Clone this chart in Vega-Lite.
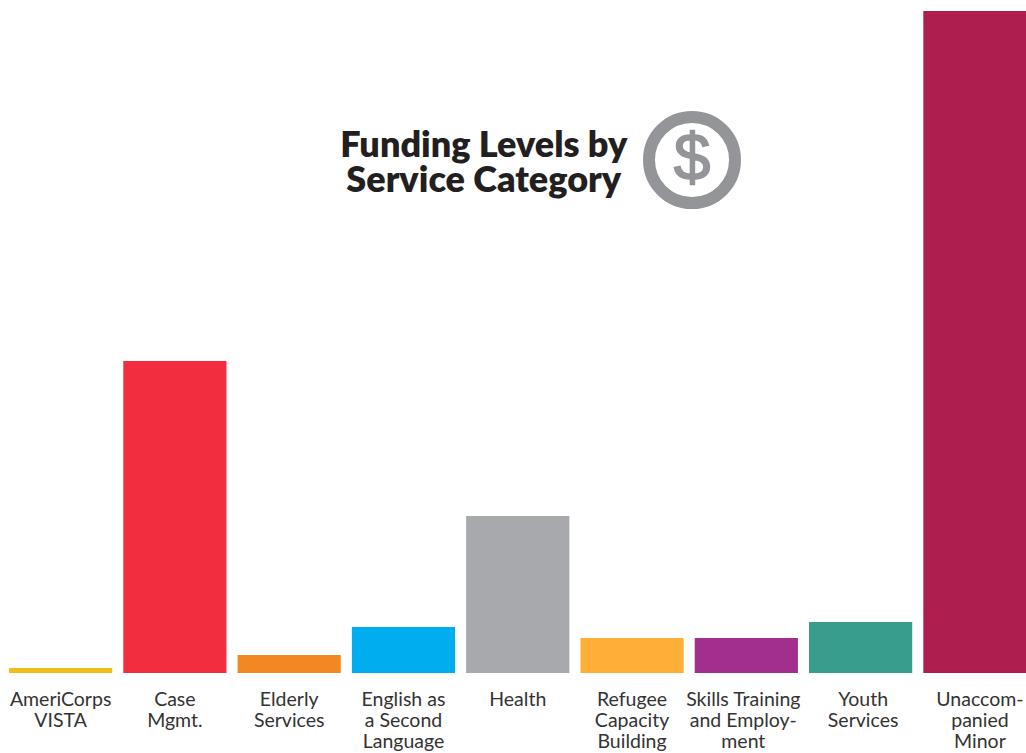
{
  "$schema": "https://vega.github.io/schema/vega-lite/v6.json",
  "width": 1017.5,
  "height": 662,
  "autosize": {"type": "none"},
  "padding": {"left": 9, "top": 11, "right": 0, "bottom": 80},
  "background": "white",
  "config": {"view": {"stroke": null}, "font": "Lato"},
  "title": {
    "text": ["Funding Levels by", "Service Category"],
    "anchor": "middle",
    "align": "center",
    "frame": "group",
    "orient": "top",
    "baseline": "alphabetic",
    "font": "Lato",
    "fontSize": 36,
    "fontWeight": 800,
    "color": "#231f20",
    "lineHeight": 35,
    "dx": -34,
    "dy": 217,
    "offset": 0
  },
  "resolve": {"scale": {"x": "independent"}},
  "layer": [
    {
      "data": {"values": [
        {"category": "AmeriCorps|VISTA", "funding": 5},
        {"category": "Case|Mgmt.", "funding": 312},
        {"category": "Elderly|Services", "funding": 18},
        {"category": "English as|a Second|Language", "funding": 46},
        {"category": "Health", "funding": 157},
        {"category": "Refugee|Capacity|Building", "funding": 35},
        {"category": "Skills Training|and Employ-|ment", "funding": 35},
        {"category": "Youth|Services", "funding": 51},
        {"category": "Unaccom-|panied|Minor", "funding": 662}
      ]},
      "mark": {"type": "bar"},
      "encoding": {
        "x": {
          "field": "category", "type": "nominal", "sort": null,
          "scale": {"paddingInner": 0.097, "paddingOuter": 0},
          "axis": {
            "title": null, "ticks": false, "domain": false, "labelAngle": 0,
            "labelExpr": "split(datum.label, '|')",
            "labelFont": "Lato", "labelFontSize": 19.5, "labelColor": "#333333",
            "labelLineHeight": 21, "labelPadding": 17, "labelBaseline": "top",
            "labelAlign": "center", "labelLimit": 0, "labelOverlap": false, "labelBound": false, "labelFlush": false,
            "labelOffset": {"expr": "indexof(datum.label,'Unaccom')==0 ? 5 : indexof(datum.label,'Youth')==0 ? 2.5 : indexof(datum.label,'Skills')==0 ? -3 : 0"}
          }
        },
        "y": {"field": "funding", "type": "quantitative", "scale": {"domain": [0, 662], "nice": false}, "axis": null},
        "color": {
          "field": "category", "type": "nominal", "sort": null, "legend": null,
          "scale": {"range": ["#f3bd18", "#f12d3f", "#f38722", "#00aeef", "#a7a9ac", "#ffae38", "#a22f8e", "#399d8e", "#ae1f4f"]}
        }
      }
    },
    {
      "data": {"values": [{"px": 683, "py": 513, "symbol": "$"}]},
      "layer": [
        {
          "mark": {"type": "point", "shape": "circle", "filled": false, "stroke": "#939598", "strokeWidth": 12, "size": 7396, "opacity": 1},
          "encoding": {
            "x": {"field": "px", "type": "quantitative", "scale": {"domain": [0, 1017.5]}, "axis": null},
            "y": {"field": "py", "type": "quantitative", "scale": {"domain": [0, 662], "nice": false}, "axis": null}
          }
        },
        {
          "mark": {"type": "text", "font": "Liberation Sans", "fontSize": 66, "fontWeight": 400, "stroke": "#939598", "strokeWidth": 1.5, "color": "#939598", "baseline": "middle", "align": "center", "dy": 0},
          "encoding": {
            "x": {"field": "px", "type": "quantitative", "scale": {"domain": [0, 1017.5]}, "axis": null},
            "y": {"field": "py", "type": "quantitative", "scale": {"domain": [0, 662], "nice": false}, "axis": null},
            "text": {"field": "symbol"}
          }
        }
      ]
    }
  ]
}
